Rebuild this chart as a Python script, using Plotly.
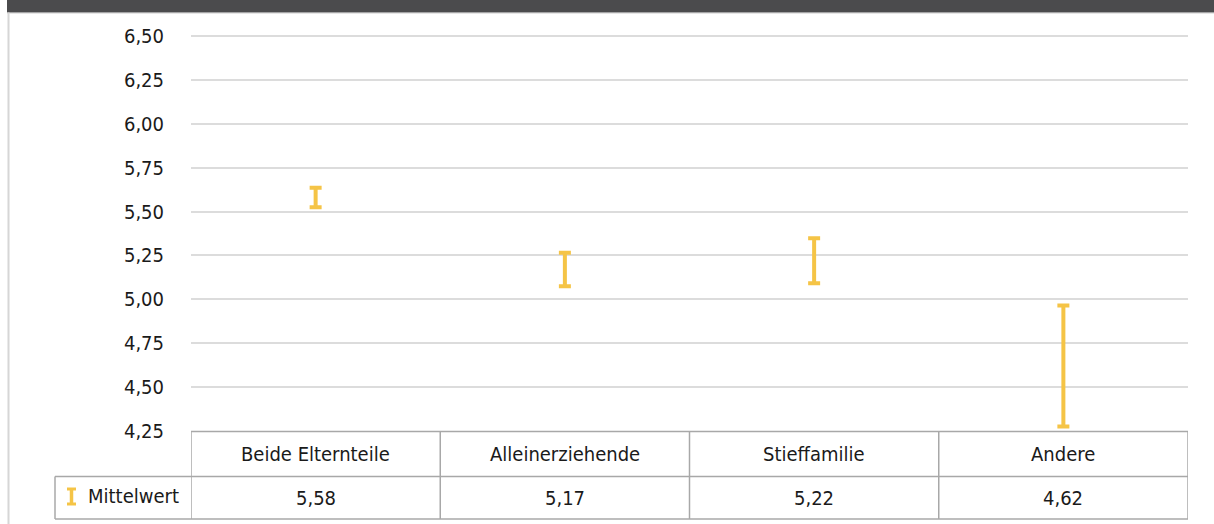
import plotly.graph_objects as go

# Mean scores by family structure, with the half-width of each interval
categories = ["Beide Elternteile", "Alleinerziehende", "Stieffamilie", "Andere"]
means = [5.58, 5.17, 5.22, 4.62]
half_widths = [0.055, 0.095, 0.128, 0.345]
y_ticks = [4.25, 4.50, 4.75, 5.00, 5.25, 5.50, 5.75, 6.00, 6.25, 6.50]
row_label = "Mittelwert"

W, H = 1214, 524
L, R, T, B = 191, 26, 32, 93
PLOT_W = W - L - R
PLOT_H = H - T - B
# leave a little headroom above 6,50 so its grid line is drawn
Y_MIN, Y_MAX = 4.25, 6.5227

FONT = "DejaVu Sans Condensed, Liberation Sans Narrow, Roboto, sans-serif"
YELLOW = "#F5C446"
GRID = "#dcdcdc"
BORDER = "#a8a8a8"
TEXT = "#1a1a1a"


def px(x):
    return (x - L) / PLOT_W


def py(y):
    return (H - B - y) / PLOT_H


def fmt(v):
    return f"{v:.2f}".replace(".", ",")


fig = go.Figure()
fig.add_trace(go.Scatter(
    x=list(range(len(categories))),
    y=means,
    mode="markers",
    marker=dict(size=1, color=YELLOW, opacity=0),
    error_y=dict(type="data", array=half_widths, symmetric=True,
                 color=YELLOW, thickness=4, width=6),
    hoverinfo="skip",
    showlegend=False,
))

shapes = []
# header band and panel frame
shapes.append(dict(type="rect", xref="paper", yref="paper",
                   x0=px(7), x1=px(W), y0=py(12.5), y1=py(-2),
                   fillcolor="#4b4b4d", line=dict(width=0), layer="below"))
shapes.append(dict(type="line", xref="paper", yref="paper",
                   x0=px(7), x1=px(W), y0=py(13.5), y1=py(13.5),
                   line=dict(color="#e6e6e6", width=1)))
shapes.append(dict(type="line", xref="paper", yref="paper",
                   x0=px(8.5), x1=px(8.5), y0=py(12.5), y1=py(H + 2),
                   line=dict(color="#d6d6d6", width=2)))

# table grid below the plot
n = len(categories)
line_style = dict(color=BORDER, width=1.5)
row_top = py(431.5)
row_mid = py(476.5)
row_bot = py(519)
shapes.append(dict(type="line", xref="x", yref="paper", x0=-0.5, x1=n - 0.5,
                   y0=row_top, y1=row_top, line=line_style))
shapes.append(dict(type="line", xref="paper", yref="paper", x0=px(55), x1=1,
                   y0=row_mid, y1=row_mid, line=line_style))
shapes.append(dict(type="line", xref="paper", yref="paper", x0=px(55), x1=1,
                   y0=row_bot, y1=row_bot, line=line_style))
shapes.append(dict(type="line", xref="paper", yref="paper", x0=px(55), x1=px(55),
                   y0=row_mid, y1=row_bot, line=line_style))
for i in range(n + 1):
    shapes.append(dict(type="line", xref="x", yref="paper", x0=i - 0.5, x1=i - 0.5,
                       y0=row_top, y1=row_bot, line=line_style))

# legend glyph for the interval marker
gx = 71.5
shapes.append(dict(type="line", xref="paper", yref="paper", x0=px(gx), x1=px(gx),
                   y0=py(488), y1=py(505), line=dict(color=YELLOW, width=3.5)))
for gy in (489, 504):
    shapes.append(dict(type="line", xref="paper", yref="paper", x0=px(gx - 4.5),
                       x1=px(gx + 4.5), y0=py(gy), y1=py(gy),
                       line=dict(color=YELLOW, width=3)))

cell_font = dict(size=20, color=TEXT, family=FONT)
annotations = []
for i, (cat, m) in enumerate(zip(categories, means)):
    annotations.append(dict(x=i, y=py(454), xref="x", yref="paper", text=cat,
                            xanchor="center", yanchor="middle",
                            showarrow=False, font=cell_font))
    annotations.append(dict(x=i, y=py(497.5), xref="x", yref="paper", text=fmt(m),
                            xanchor="center", yanchor="middle",
                            showarrow=False, font=cell_font))
annotations.append(dict(x=px(86), y=py(496.5), xref="paper", yref="paper", text=row_label,
                        xanchor="left", yanchor="middle", showarrow=False,
                        font=cell_font))

fig.update_layout(
    width=W, height=H,
    margin=dict(l=L, r=R, t=T, b=B, pad=0),
    paper_bgcolor="white", plot_bgcolor="white",
    separators=",.",
    font=dict(family=FONT, color=TEXT, size=20),
    xaxis=dict(range=[-0.5, n - 0.5], showticklabels=False, showgrid=False,
               zeroline=False, showline=False, fixedrange=True),
    yaxis=dict(range=[Y_MIN, Y_MAX], tickvals=y_ticks,
               ticktext=[fmt(v) for v in y_ticks],
               showgrid=True, gridcolor=GRID, gridwidth=1.5,
               zeroline=False, showline=False, ticks="",
               ticklabelstandoff=26, tickfont=dict(size=20, color=TEXT, family=FONT)),
    shapes=shapes,
    annotations=annotations,
    showlegend=False,
)

fig.write_html("out.html")
